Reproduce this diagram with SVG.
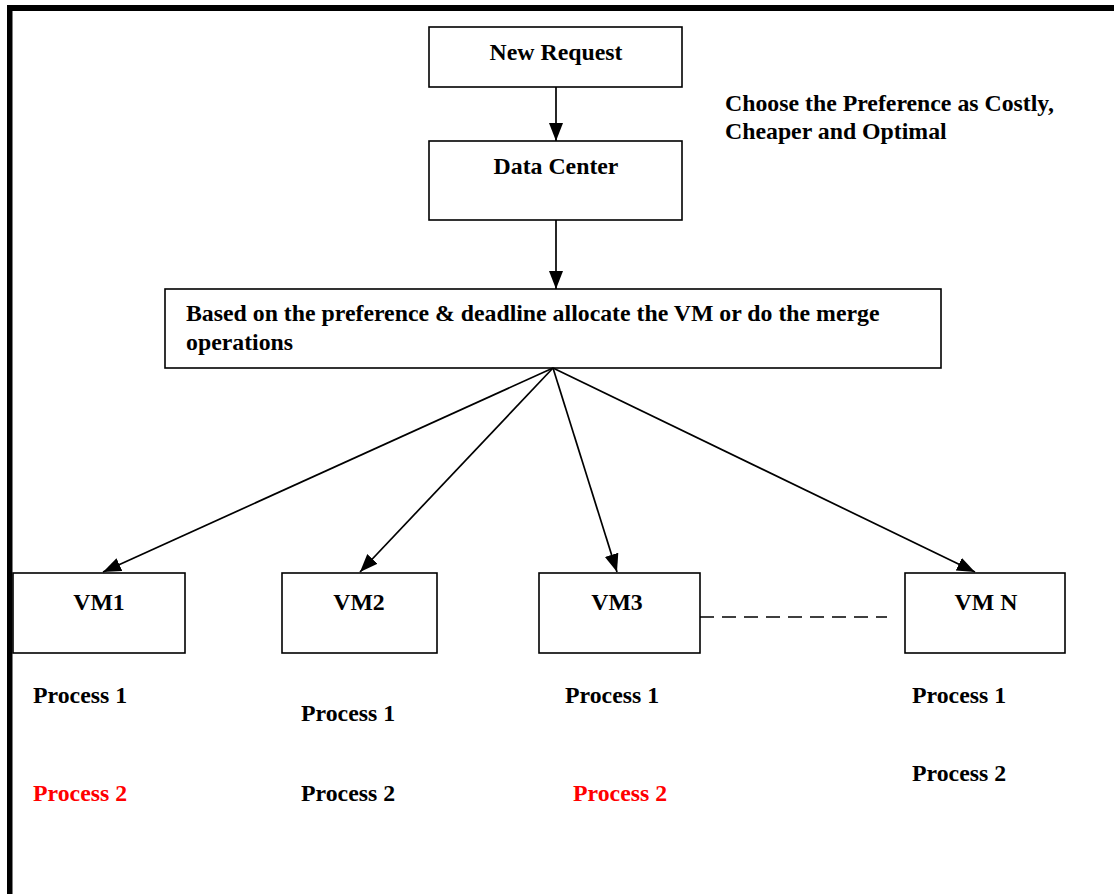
<svg xmlns="http://www.w3.org/2000/svg" width="1114" height="894" viewBox="0 0 1114 894">
<style>
.box{fill:#fff;stroke:#000;stroke-width:1.6}
.t{font-family:"Liberation Serif","Times New Roman",serif;font-weight:bold;font-size:23.8px;fill:#000}
.red{fill:#ff0000}
.c{text-anchor:middle}
.ln{stroke:#000;stroke-width:1.7;fill:none}
</style>
<defs>
<marker id="ah" markerUnits="userSpaceOnUse" markerWidth="20" markerHeight="16" refX="18" refY="7" orient="auto">
<path d="M0,0 L18,7 L0,14 z" fill="#000"/>
</marker>
</defs>
<rect width="1114" height="894" fill="#fff"/>
<g id="frame">
<rect x="7" y="5" width="1107" height="6" fill="#000"/>
<rect x="7" y="5" width="5.5" height="889" fill="#000"/>
</g>
<g id="new-request">
<rect class="box" x="429" y="27" width="253" height="60"/>
<text class="t c" x="556" y="60">New Request</text>
</g>
<g id="data-center">
<rect class="box" x="429" y="141" width="253" height="79"/>
<text class="t c" x="556" y="174">Data Center</text>
</g>
<g id="note">
<text class="t" x="725" y="111">Choose the Preference as Costly,</text>
<text class="t" x="725" y="139">Cheaper and Optimal</text>
</g>
<g id="allocate">
<rect class="box" x="165" y="289" width="776" height="79"/>
<text class="t" x="186" y="321">Based on the preference &amp; deadline allocate the VM or do the merge</text>
<text class="t" x="186" y="350">operations</text>
</g>
<g id="vm1">
<rect class="box" x="13" y="573" width="172" height="80"/>
<text class="t c" x="99" y="610">VM1</text>
<text class="t" x="33" y="703">Process 1</text>
<text class="t red" x="33" y="801">Process 2</text>
</g>
<g id="vm2">
<rect class="box" x="282" y="573" width="155" height="80"/>
<text class="t c" x="359" y="610">VM2</text>
<text class="t" x="301" y="721">Process 1</text>
<text class="t" x="301" y="801">Process 2</text>
</g>
<g id="vm3">
<rect class="box" x="539" y="573" width="161" height="80"/>
<text class="t c" x="617" y="610">VM3</text>
<text class="t" x="565" y="703">Process 1</text>
<text class="t red" x="573" y="801">Process 2</text>
</g>
<g id="vmn">
<rect class="box" x="905" y="573" width="160" height="80"/>
<text class="t c" x="986" y="610">VM N</text>
<text class="t" x="912" y="703">Process 1</text>
<text class="t" x="912" y="781">Process 2</text>
</g>
<g id="connectors">
<line class="ln" x1="556" y1="87" x2="556" y2="141" marker-end="url(#ah)"/>
<line class="ln" x1="556" y1="220" x2="556" y2="289" marker-end="url(#ah)"/>
<line class="ln" x1="553" y1="368" x2="103" y2="572" marker-end="url(#ah)"/>
<line class="ln" x1="553" y1="368" x2="360" y2="572" marker-end="url(#ah)"/>
<line class="ln" x1="553" y1="368" x2="617" y2="572" marker-end="url(#ah)"/>
<line class="ln" x1="553" y1="368" x2="975" y2="572" marker-end="url(#ah)"/>
<line class="ln" x1="700" y1="617" x2="887" y2="617" stroke-width="2" stroke-dasharray="14,8"/>
</g>
</svg>
